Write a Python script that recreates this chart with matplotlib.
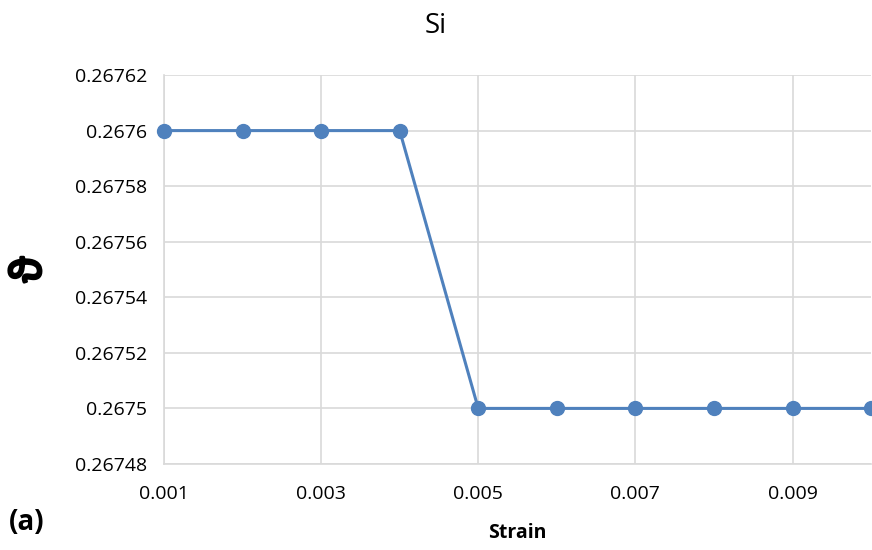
import matplotlib.pyplot as plt
import matplotlib.patheffects as pe
import numpy as np

strain = [0.001, 0.002, 0.003, 0.004, 0.005, 0.006, 0.007, 0.008, 0.009, 0.010]
theta = [0.2676, 0.2676, 0.2676, 0.2676, 0.2675, 0.2675, 0.2675, 0.2675, 0.2675, 0.2675]
x_ticks = [0.001, 0.003, 0.005, 0.007, 0.009]
y_ticks = [0.26748, 0.26750, 0.26752, 0.26754, 0.26756, 0.26758, 0.26760, 0.26762]

plt.rcParams['font.family'] = ['Open Sans', 'DejaVu Sans']
grid_col = '#d9d9d9'
blue = '#4f81bd'

fig = plt.figure(figsize=(8.72, 5.5), dpi=100)
ax = fig.add_axes([0.188, 0.1564, 0.811, 0.7072])

ax.plot(strain, theta, '-o', color=blue, lw=2.2, markersize=10, clip_on=False, zorder=3)

ax.set_xlim(0.001, 0.010)
ax.set_ylim(y_ticks[0], y_ticks[-1])
ax.set_xticks(x_ticks)
ax.set_xticklabels(['%g' % v for v in x_ticks])
ax.set_yticks(y_ticks)
ax.set_yticklabels([('%.5f' % v).rstrip('0') for v in y_ticks])
ax.tick_params(length=0, labelsize=14, pad=12)
ax.tick_params(axis='x', pad=15)

ax.grid(True, color=grid_col, lw=1.2)
ax.set_axisbelow(True)
for s in ['top', 'right']:
    ax.spines[s].set_visible(False)
for s in ['left', 'bottom']:
    ax.spines[s].set_color(grid_col)
    ax.spines[s].set_linewidth(1.2)

fig.text(0.5, 0.952, 'Si', ha='center', va='center', fontsize=20)
fig.text(0.593, 0.03, 'Strain', ha='center', va='center', fontsize=14, fontweight='bold')
# bold-looking theta: thicken the glyph with a stroke
fig.text(0.034, 0.51, 'ϑ', ha='center', va='center', fontsize=30,
         rotation=90, family=['Noto Sans', 'DejaVu Sans'],
         path_effects=[pe.withStroke(linewidth=2, foreground='black')])
fig.text(0.01, 0.05, '(a)', ha='left', va='center', fontsize=20, fontweight='bold')

fig.savefig('out.png', dpi=100)
